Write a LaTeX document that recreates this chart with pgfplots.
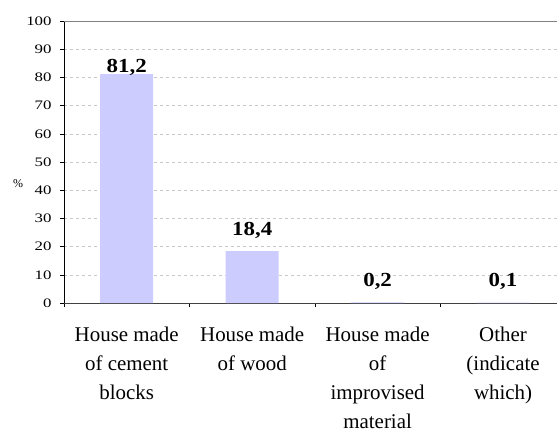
\documentclass[border=0pt]{standalone}
\usepackage{pgfplots}
\usepackage{pgfplotstable}
\pgfplotsset{compat=1.18}
\usepackage{fontspec}
\setmainfont{Liberation Serif}
\definecolor{barc}{HTML}{CCCCFF}
\definecolor{gridc}{HTML}{C8C8C8}
\pgfplotstableread{
x y off
0 81.2 1.3
1 18.4 16
2 0.2 16
3 0.1 16
}\data
\begin{document}
\begin{tikzpicture}
\begin{axis}[
  scale only axis, width=493bp, height=282bp,
  at={(0,0)}, anchor=south west,
  xmin=-0.5, xmax=3.43, ymin=0, ymax=100,
  axis x line=bottom, axis y line=left, axis line style={-, line width=0.8bp},
  x axis line style={draw=black!75},
  /pgf/number format/assume math mode=true,
  ytick={0,10,...,90},
  extra y ticks={100}, extra y tick style={grid style={solid, draw=gray, line width=0.8bp}},
  ymajorgrids, grid style={dashed, gridc, line width=0.6bp},
  tick align=outside, major tick length=4bp,
  tick style={black, line width=0.6bp},
  yticklabel style={font=\fontsize{13}{13}\selectfont, xscale=1.3, anchor=east, xshift=-3bp},
  xtick={-0.5,0.5,1.5,2.5}, xticklabels={,,,},
  extra x ticks={0,1,2,3},
  extra x tick labels={House made\\of cement\\blocks, House made\\of wood, House made\\of\\improvised\\material, Other\\(indicate\\which)},
  extra x tick style={tick style={draw=none}, tick label style={font=\fontsize{21}{29.2}\selectfont, align=center, anchor=north, inner sep=0pt, yshift=-20bp}},
  ylabel={\%},
  every axis y label/.style={at={(axis description cs:-0.0933,0.425)}, anchor=center, font=\fontsize{12}{12}\selectfont},
  ybar, bar width=53bp, bar shift=0pt,
  visualization depends on={\thisrow{off} \as \off},
  nodes near coords={\pgfmathprintnumber[fixed,fixed zerofill,precision=1,use comma,assume math mode=true]{\pgfplotspointmeta}},
  nodes near coords style={font=\fontsize{20}{24}\selectfont\bfseries, anchor=base, yshift=\off bp, xscale=1.15, black},
]
\addplot[fill=barc, draw=none] table[x=x, y=y] {\data};
\end{axis}
\pgfresetboundingbox
\useasboundingbox (-64bp,-130bp) rectangle (493bp,303bp);
\end{tikzpicture}
\end{document}
